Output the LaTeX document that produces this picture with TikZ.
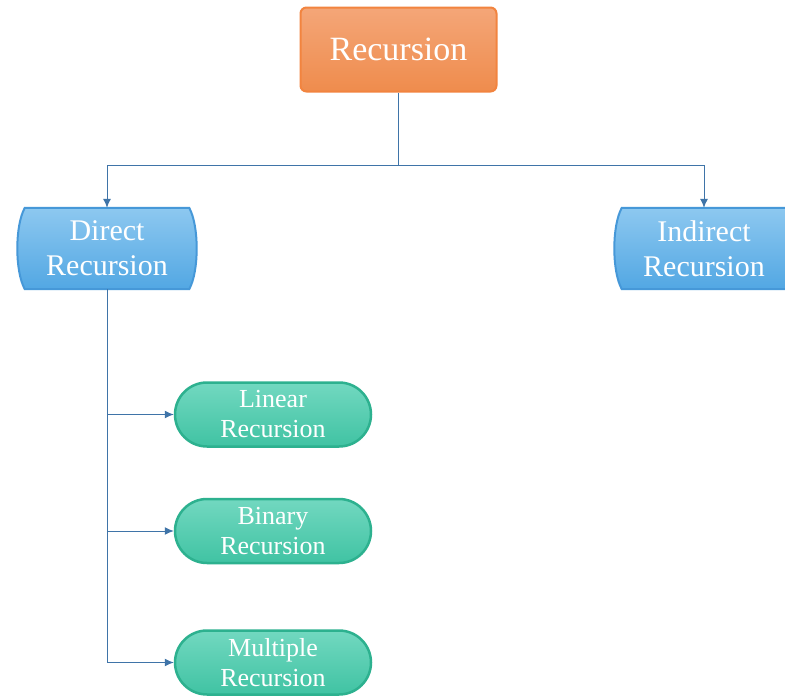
\documentclass[tikz,border=0pt]{standalone}
\usepackage{fontspec}
\setmainfont{Liberation Serif}
\usetikzlibrary{arrows.meta,calc}
\pgfdeclarelayer{background}
\pgfsetlayers{background,main}
\definecolor{ortop}{HTML}{F4A678}
\definecolor{orbot}{HTML}{EF8C4D}
\definecolor{orbord}{HTML}{F2843F}
\definecolor{bltop}{HTML}{8DC8F0}
\definecolor{blbot}{HTML}{52A7E3}
\definecolor{blbord}{HTML}{4698D8}
\definecolor{grtop}{HTML}{72D8C0}
\definecolor{grbot}{HTML}{40C3A3}
\definecolor{grbord}{HTML}{2DB18F}
\definecolor{conncol}{HTML}{3F74A8}
\begin{document}
\begin{tikzpicture}[x=1pt,y=-1pt,
  recbox/.style={draw=orbord, line width=2pt, rounded corners=6pt,
    top color=ortop, bottom color=orbot, minimum width=196pt, minimum height=84pt,
    text=white, font=\fontsize{34}{38}\selectfont, inner sep=0pt},
  bluebox/.style={minimum width=180pt, minimum height=81pt, inner sep=0pt,
    text=white, align=center, font=\fontsize{30}{35}\selectfont},
  blueshape/.style={draw=blbord, line width=2pt, top color=bltop, bottom color=blbot},
  greenbox/.style={draw=grbord, line width=2.5pt, rounded corners=32pt,
    top color=grtop, bottom color=grbot, minimum width=196pt, minimum height=64pt,
    inner sep=0pt, text=white, align=center, font=\fontsize{26}{30}\selectfont},
  conn/.style={draw=conncol, line width=1pt, -{Latex[length=9pt,width=8pt]}},
  line/.style={draw=conncol, line width=1pt}
]
\clip (0,0) rectangle (785,697);

\node[recbox] (rec) at (398.5,49.5) {Recursion};
\node[bluebox] (dir) at (107,248.5) {Direct\\Recursion};
\node[bluebox] (ind) at (704,248.5) {Indirect\\Recursion};
\node[greenbox] (lin) at (273,414.5) {Linear\\Recursion};
\node[greenbox] (bin) at (273,531) {Binary\\Recursion};
\node[greenbox] (mul) at (273,662.5) {Multiple\\Recursion};

\begin{pgfonlayer}{background}
\fill[white] (0,0) rectangle (785,697);
\foreach \n in {dir,ind}{
  \path[blueshape] ([xshift=8pt]\n.north west) -- ([xshift=-8pt]\n.north east)
    .. controls ([xshift=2pt,yshift=-18pt]\n.north east) and ([xshift=2pt,yshift=18pt]\n.south east) .. ([xshift=-8pt]\n.south east)
    -- ([xshift=8pt]\n.south west)
    .. controls ([xshift=-2pt,yshift=18pt]\n.south west) and ([xshift=-2pt,yshift=-18pt]\n.north west) .. cycle;
}
\end{pgfonlayer}

\coordinate (j) at (398.5,165);
\coordinate (bl) at (dir.south |- lin.west);
\coordinate (bb) at (dir.south |- bin.west);
\draw[line] (rec.south) -- (j);
\draw[conn] (j) -| (dir.north);
\draw[conn] (j) -| (ind.north);
\draw[conn] (dir.south) |- (mul.west);
\draw[conn] (bl) -- (lin.west);
\draw[conn] (bb) -- (bin.west);
\end{tikzpicture}
\end{document}
